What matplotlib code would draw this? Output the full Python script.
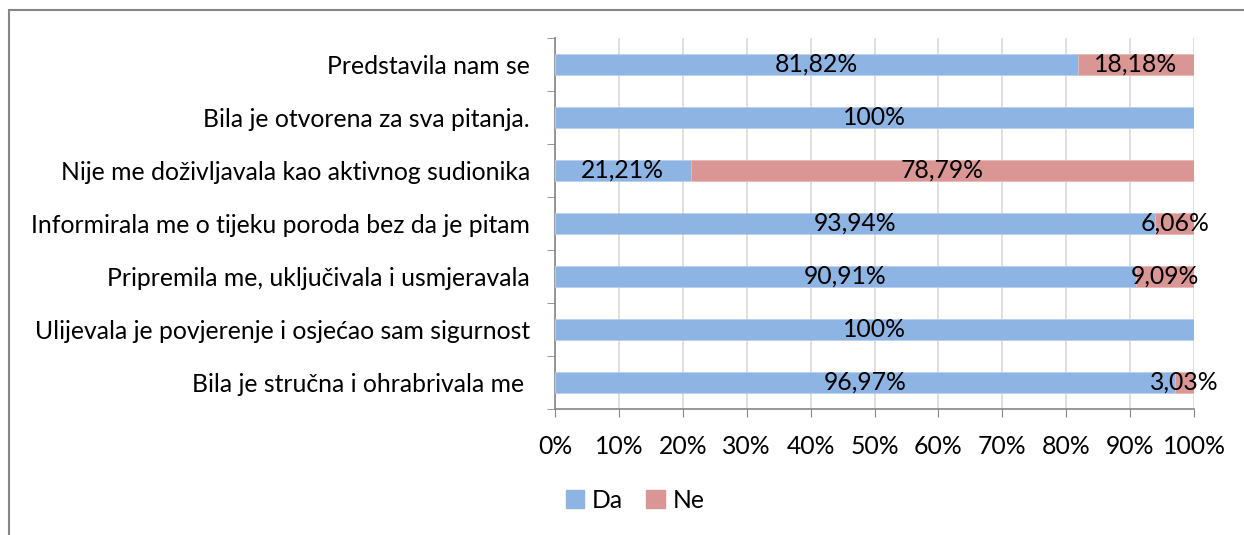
import matplotlib
matplotlib.use("Agg")
import matplotlib.pyplot as plt
import matplotlib.patches as mpatches
import numpy as np

categories = [
    "Predstavila nam se",
    "Bila je otvorena za sva pitanja.",
    "Nije me doživljavala kao aktivnog sudionika",
    "Informirala me o tijeku poroda bez da je pitam",
    "Pripremila me, uključivala i usmjeravala",
    "Ulijevala je povjerenje i osjećao sam sigurnost",
    "Bila je stručna i ohrabrivala me ",
]
da = [81.82, 100, 21.21, 93.94, 90.91, 100, 96.97]
ne = [18.18, 0, 78.79, 6.06, 9.09, 0, 3.03]
da_labels = ["81,82%", "100%", "21,21%", "93,94%", "90,91%", "100%", "96,97%"]
ne_labels = ["18,18%", "", "78,79%", "6,06%", "9,09%", "", "3,03%"]
xticks = list(range(0, 101, 10))
xtick_labels = [f"{v}%" for v in xticks]

plt.rcParams['font.family'] = ['Lato', 'DejaVu Sans']
FS = 17.8

W, H = 1244, 535
fig = plt.figure(figsize=(W / 100, H / 100), dpi=100)
ax = fig.add_axes([555 / W, 1 - 409 / H, (1194 - 555) / W, (409 - 38) / H])

n = len(categories)
y = np.arange(n)
blue = "#8EB4E3"
red = "#D99694"
ax.barh(y, da, height=0.4, color=blue, edgecolor="#B9D0EE", linewidth=0.6, zorder=3)
ax.barh(y, ne, left=da, height=0.4, color=red, edgecolor="#E6B9B8", linewidth=0.6, zorder=3)

for i in range(n):
    if da[i] > 0:
        ax.text(da[i] / 2, y[i], da_labels[i], ha="center", va="center", fontsize=FS, zorder=4)
    if ne[i] > 0:
        ax.text(da[i] + ne[i] / 2, y[i], ne_labels[i], ha="center", va="center", fontsize=FS, zorder=4)

ax.set_xlim(0, 100)
ax.set_ylim(n - 0.5, -0.5)
ax.set_xticks(xticks)
ax.set_xticklabels(xtick_labels, fontsize=FS)
ax.set_yticks(y)
ax.set_yticklabels(categories, fontsize=FS)
ax.set_yticks(np.arange(-0.5, n, 1), minor=True)
ax.tick_params(axis="y", which="major", length=0, pad=18)
ax.tick_params(axis="y", which="minor", length=6, color="#868686", direction="out")
ax.tick_params(axis="x", which="major", length=6, color="#868686", direction="out", pad=13)

ax.grid(axis="x", color="#D9D9D9", linewidth=1.2, zorder=0)
for s in ["top", "right"]:
    ax.spines[s].set_visible(False)
for s in ["left", "bottom"]:
    ax.spines[s].set_color("#868686")
    ax.spines[s].set_linewidth(1.2)

handles = [mpatches.Patch(color=blue, label="Da"), mpatches.Patch(color=red, label="Ne")]
fig.legend(handles=handles, loc="center", bbox_to_anchor=(635 / W, 1 - 500 / H), ncol=2,
           frameon=False, fontsize=FS, handlelength=0.75, handleheight=0.75,
           handletextpad=0.3, columnspacing=0.95, borderpad=0, borderaxespad=0)

frame = mpatches.Rectangle((8.5 / W, -0.2), 2, 1 - 10 / H + 0.2, transform=fig.transFigure,
                           fill=False, edgecolor="#868686", linewidth=1.5)
fig.add_artist(frame)

fig.savefig("out.png", dpi=100)
